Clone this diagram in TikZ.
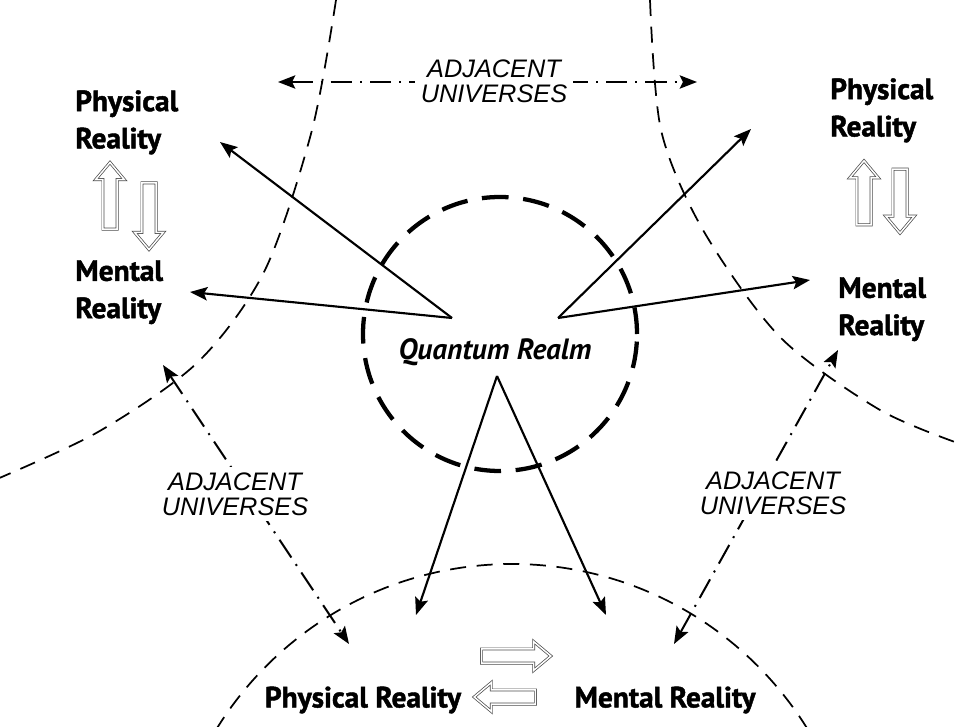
\documentclass[tikz,border=0pt]{standalone}
\usepackage{fontspec}
\setmainfont{PT Sans}[BoldFeatures={FakeBold=1.5}]
\setsansfont{Liberation Sans}
\usetikzlibrary{arrows.meta,shapes.arrows}

\begin{document}
\begin{tikzpicture}[x=0.75pt,y=-0.75pt,
    font=\bfseries\fontsize{22}{28}\selectfont,
    >={Stealth[length=13pt,width=10pt,inset=2.5pt]},
    reality/.style={align=left,inner sep=0pt,anchor=north west},
    adjlabel/.style={font=\sffamily\itshape\mdseries\fontsize{19}{19}\selectfont,align=center,fill=white,inner sep=4pt},
    ray/.style={line width=1.6pt,->},
    adjline/.style={line width=1.5pt,dash pattern=on 16pt off 6pt on 1.5pt off 6pt},
    universe/.style={line width=1.3pt,dash pattern=on 12pt off 8pt},
    swap/.style={single arrow,draw=black!70,line width=.55pt,double=white,double distance=1.1pt,
      inner sep=5pt,single arrow head extend=5.5pt,single arrow tip angle=80,minimum height=#1}]
  \useasboundingbox (0,0) rectangle (956,727);
  \clip (0,0) rectangle (956,727);

  \draw[universe] plot[smooth] coordinates {(336,0) (312,130) (265,270) (198,362) (98,432) (-10,482)};
  \draw[universe] plot[smooth] coordinates {(650,0) (661,130) (703,230) (780,337) (880,410) (966,446)};
  \draw[universe] (512,911) circle (347);

  \node[circle,draw,line width=3.2pt,dash pattern=on 20pt off 11pt,minimum size=205.5pt] (qr) at (500,334) {};
  \node[font=\bfseries\itshape\fontsize{22}{28}\selectfont] (qrtext) at (495,352) {Quantum Realm};

  \node[reality] (lphys) at (75,90) {Physical\\Reality};
  \node[reality] (lment) at (75,260) {Mental\\Reality};
  \node[reality] (rphys) at (830,78) {Physical\\Reality};
  \node[reality] (rment) at (838,277) {Mental\\Reality};
  \node (bphys) at (363,700) {Physical Reality};
  \node (bment) at (665,700) {Mental Reality};

  \coordinate (lapex) at (452,318);
  \coordinate (rapex) at (558,318);
  \coordinate (bapex) at (497,376);
  \coordinate (lphystip) at (220,142);
  \coordinate (lmenttip) at (190,292);
  \coordinate (rphystip) at (751,129);
  \coordinate (rmenttip) at (810,280);
  \coordinate (bphystip) at (416,615);
  \coordinate (bmenttip) at (606,615);
  \draw[ray] (lapex) -- (lphystip);
  \draw[ray] (lapex) -- (lmenttip);
  \draw[ray] (rapex) -- (rphystip);
  \draw[ray] (rapex) -- (rmenttip);
  \draw[ray] (bapex) -- (bphystip);
  \draw[ray] (bapex) -- (bmenttip);

  \coordinate (topl) at (278,82);
  \coordinate (topr) at (697,82);
  \coordinate (leftu) at (163,365);
  \coordinate (leftd) at (349,644);
  \coordinate (rightu) at (838,350);
  \coordinate (rightd) at (674,644);
  \draw[adjline,<->] (topl) -- (topr);
  \draw[adjline,<->] (leftu) -- (leftd);
  \draw[adjline,<->] (rightd) -- (rightu);
  \node[adjlabel] (adjtop) at (494,81) {ADJACENT\\UNIVERSES};
  \node[adjlabel] (adjleft) at (235,494) {ADJACENT\\UNIVERSES};
  \node[adjlabel] (adjright) at (773,493) {ADJACENT\\UNIVERSES};

  \node[swap=50pt,rotate=90] (lup) at (110,200) {};
  \node[swap=50pt,rotate=-90] (ldown) at (149,212) {};
  \node[swap=48pt,rotate=90] (rup) at (864,197) {};
  \node[swap=48pt,rotate=-90] (rdown) at (900,197) {};
  \node[swap=52pt] (bright) at (512,656) {};
  \node[swap=46pt,rotate=180] (bleft) at (509,697) {};
\end{tikzpicture}
\end{document}
